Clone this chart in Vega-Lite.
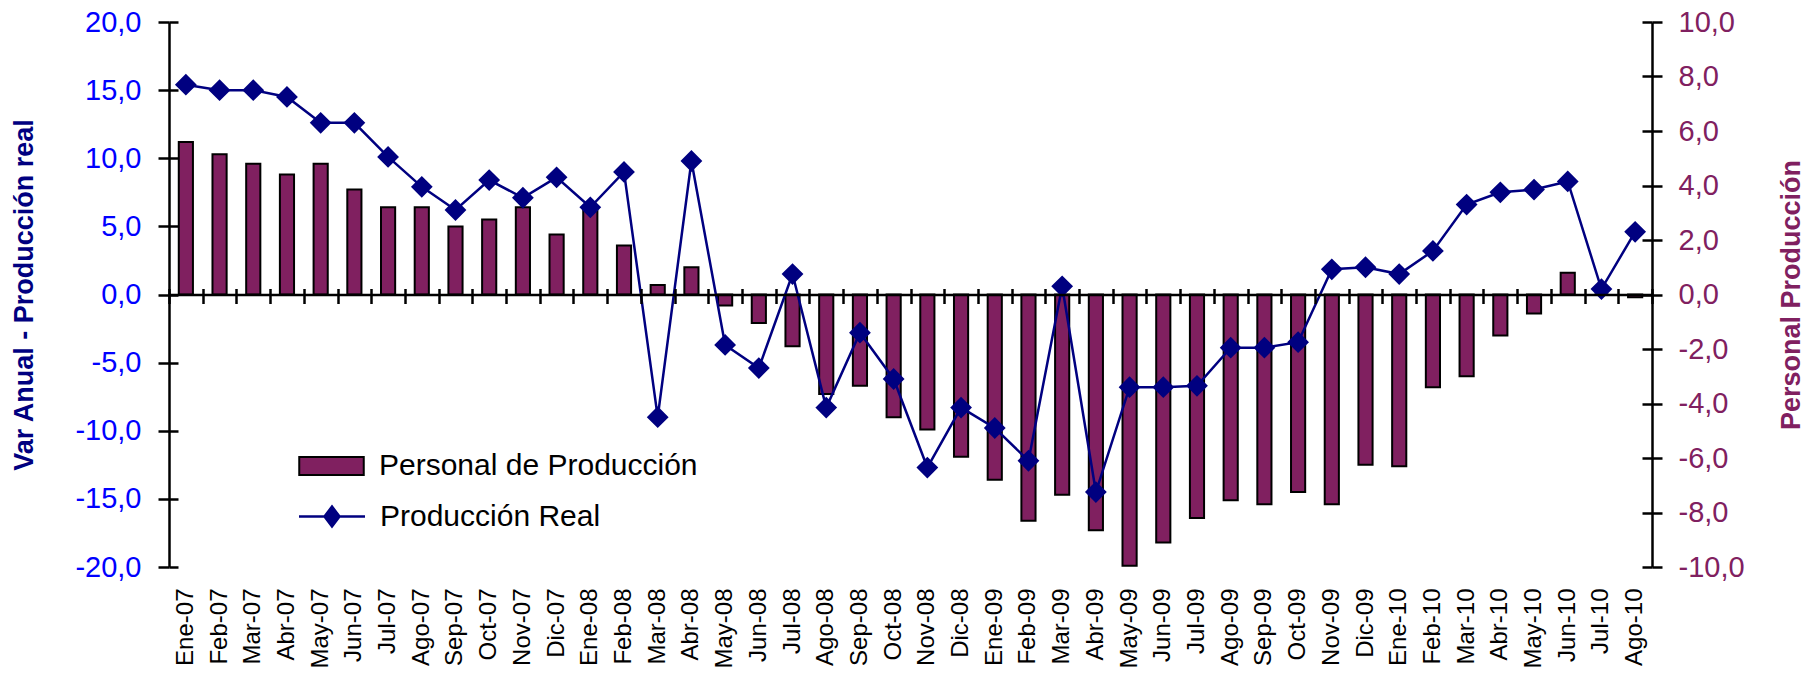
{
  "$schema": "https://vega.github.io/schema/vega-lite/v6.json",
  "autosize": {"type": "none"},
  "padding": {"left": 169, "top": 22, "right": 161, "bottom": 113},
  "width": 1483,
  "height": 545,
  "background": "white",
  "config": {
    "font": "Liberation Sans",
    "view": {"stroke": null},
    "axis": {"grid": false}
  },
  "data": {
    "values": [
      {"m": "Ene-07", "pers": 5.6, "prod": 15.4},
      {"m": "Feb-07", "pers": 5.15, "prod": 15.0},
      {"m": "Mar-07", "pers": 4.8, "prod": 15.0},
      {"m": "Abr-07", "pers": 4.4, "prod": 14.5},
      {"m": "May-07", "pers": 4.8, "prod": 12.6},
      {"m": "Jun-07", "pers": 3.85, "prod": 12.6},
      {"m": "Jul-07", "pers": 3.2, "prod": 10.1},
      {"m": "Ago-07", "pers": 3.2, "prod": 7.9},
      {"m": "Sep-07", "pers": 2.5, "prod": 6.2},
      {"m": "Oct-07", "pers": 2.75, "prod": 8.4},
      {"m": "Nov-07", "pers": 3.2, "prod": 7.1},
      {"m": "Dic-07", "pers": 2.2, "prod": 8.6},
      {"m": "Ene-08", "pers": 3.2, "prod": 6.4},
      {"m": "Feb-08", "pers": 1.8, "prod": 9.0},
      {"m": "Mar-08", "pers": 0.35, "prod": -9.0},
      {"m": "Abr-08", "pers": 1.0, "prod": 9.8},
      {"m": "May-08", "pers": -0.4, "prod": -3.7},
      {"m": "Jun-08", "pers": -1.05, "prod": -5.4},
      {"m": "Jul-08", "pers": -1.9, "prod": 1.5},
      {"m": "Ago-08", "pers": -3.65, "prod": -8.3},
      {"m": "Sep-08", "pers": -3.35, "prod": -2.8},
      {"m": "Oct-08", "pers": -4.5, "prod": -6.2},
      {"m": "Nov-08", "pers": -4.95, "prod": -12.7},
      {"m": "Dic-08", "pers": -5.95, "prod": -8.3},
      {"m": "Ene-09", "pers": -6.8, "prod": -9.8},
      {"m": "Feb-09", "pers": -8.3, "prod": -12.2},
      {"m": "Mar-09", "pers": -7.35, "prod": 0.6},
      {"m": "Abr-09", "pers": -8.65, "prod": -14.5},
      {"m": "May-09", "pers": -9.95, "prod": -6.8},
      {"m": "Jun-09", "pers": -9.1, "prod": -6.8},
      {"m": "Jul-09", "pers": -8.2, "prod": -6.7},
      {"m": "Ago-09", "pers": -7.55, "prod": -3.9},
      {"m": "Sep-09", "pers": -7.7, "prod": -3.9},
      {"m": "Oct-09", "pers": -7.25, "prod": -3.5},
      {"m": "Nov-09", "pers": -7.7, "prod": 1.85},
      {"m": "Dic-09", "pers": -6.25, "prod": 2.0},
      {"m": "Ene-10", "pers": -6.3, "prod": 1.5},
      {"m": "Feb-10", "pers": -3.4, "prod": 3.2},
      {"m": "Mar-10", "pers": -3.0, "prod": 6.6},
      {"m": "Abr-10", "pers": -1.5, "prod": 7.5},
      {"m": "May-10", "pers": -0.7, "prod": 7.7},
      {"m": "Jun-10", "pers": 0.8, "prod": 8.3},
      {"m": "Jul-10", "pers": 0.0, "prod": 0.4},
      {"m": "Ago-10", "pers": -0.1, "prod": 4.6}
    ]
  },
  "layer": [
    {
      "mark": {"type": "bar", "width": {"band": 0.42}, "stroke": "black", "strokeWidth": 2},
      "encoding": {
        "x": {
          "field": "m", "type": "ordinal", "sort": null,
          "scale": {"paddingInner": 0, "paddingOuter": 0},
          "axis": {
            "title": null, "domain": false, "ticks": false, "tickSize": 0,
            "labelAngle": 270, "labelAlign": "right", "labelBaseline": "middle",
            "labelFontSize": 24, "labelColor": "black", "labelPadding": 21
          }
        },
        "y": {
          "field": "pers", "type": "quantitative",
          "scale": {"domain": [-10, 10], "nice": false, "zero": false},
          "axis": {
            "orient": "right", "values": [-10, -8, -6, -4, -2, 0, 2, 4, 6, 8, 10],
            "labelExpr": "replace((datum.value < 0 ? '-' : '') + format(abs(datum.value), '.1f'), '.', ',')",
            "labelColor": "#802060", "labelFontSize": 29, "labelPadding": 16,
            "tickSize": 10, "tickColor": "black", "tickWidth": 2.5,
            "domainColor": "black", "domainWidth": 2.5,
            "title": "Personal Producción", "titleColor": "#802060", "titleFontSize": 27,
            "titleFontWeight": "bold", "titleAngle": 270, "titleBaseline": "top", "titlePadding": 34
          }
        },
        "fill": {
          "datum": "Personal de Producción", "type": "nominal",
          "scale": {"domain": ["Personal de Producción"], "range": ["#802060"]},
          "legend": {
            "orient": "none", "legendX": 146.5, "legendY": 428, "title": null,
            "padding": 0, "symbolSize": 900, "labelOffset": 31.5,
            "labelFontSize": 30, "labelColor": "black", "labelLimit": 600,
            "labelFont": "Liberation Sans",
            "symbolType": "M-2.15,-0.6L2.15,-0.6L2.15,0.6L-2.15,0.6Z",
            "symbolStrokeColor": "black", "symbolStrokeWidth": 2, "symbolOpacity": 1
          }
        }
      }
    },
    {
      "mark": {"type": "line", "strokeWidth": 2.5, "point": {"shape": "diamond", "filled": true, "fill": "#000080", "size": 360, "opacity": 1}},
      "encoding": {
        "x": {
          "field": "m", "type": "ordinal", "sort": null,
          "axis": {
            "orient": "bottom", "offset": -272.5, "labels": false, "title": null,
            "domain": true, "domainColor": "black", "domainWidth": 2.5,
            "ticks": true, "tickBand": "extent", "tickSize": 9, "tickColor": "black", "tickWidth": 2.5,
            "zindex": 1
          }
        },
        "y": {
          "field": "prod", "type": "quantitative",
          "scale": {"domain": [-20, 20], "nice": false, "zero": false},
          "axis": {
            "orient": "left", "values": [-20, -15, -10, -5, 0, 5, 10, 15, 20],
            "labelExpr": "replace((datum.value < 0 ? '-' : '') + format(abs(datum.value), '.1f'), '.', ',')",
            "labelColor": "#0000FF", "labelFontSize": 29, "labelPadding": 17,
            "tickSize": 11, "tickColor": "black", "tickWidth": 2.5,
            "domainColor": "black", "domainWidth": 2.5,
            "title": "Var Anual  - Producción real", "titleColor": "#000080", "titleFontSize": 27,
            "titleFontWeight": "bold", "titlePadding": 36
          }
        },
        "stroke": {
          "datum": "Producción Real", "type": "nominal",
          "scale": {"domain": ["Producción Real"], "range": ["#000080"]},
          "legend": {
            "orient": "none", "legendX": 146.5, "legendY": 478, "title": null,
            "padding": 0, "symbolSize": 900, "labelOffset": 31.5,
            "labelFontSize": 30, "labelColor": "black", "labelLimit": 600,
            "labelFont": "Liberation Sans",
            "symbolType": "M-2.2,0L2.2,0M-0.5,0L0,-0.66L0.5,0L0,0.66Z",
            "symbolFillColor": "#000080", "symbolStrokeWidth": 2.5, "symbolOpacity": 1
          }
        }
      }
    },
    {
      "mark": {"type": "point", "opacity": 0},
      "encoding": {
        "x": {
          "field": "m", "type": "ordinal", "sort": null,
          "axis": {
            "orient": "bottom", "offset": -272.5, "labels": false, "title": null,
            "domain": false, "ticks": true, "tickBand": "extent", "tickSize": -6,
            "tickColor": "black", "tickWidth": 2.5, "zindex": 1
          }
        },
        "y": {
          "field": "prod", "type": "quantitative",
          "scale": {"domain": [-20, 20], "nice": false, "zero": false},
          "axis": {
            "orient": "left", "values": [-20, -15, -10, -5, 0, 5, 10, 15, 20],
            "labels": false, "domain": false, "title": null,
            "tickSize": -9, "tickColor": "black", "tickWidth": 2.5
          }
        }
      }
    },
    {
      "mark": {"type": "point", "opacity": 0},
      "encoding": {
        "x": {"field": "m", "type": "ordinal", "sort": null, "axis": null},
        "y": {
          "field": "pers", "type": "quantitative",
          "scale": {"domain": [-10, 10], "nice": false, "zero": false},
          "axis": {
            "orient": "right", "values": [-10, -8, -6, -4, -2, 0, 2, 4, 6, 8, 10],
            "labels": false, "domain": false, "title": null,
            "tickSize": -10, "tickColor": "black", "tickWidth": 2.5
          }
        }
      }
    }
  ],
  "resolve": {"scale": {"y": "independent"}, "axis": {"x": "independent", "y": "independent"}}
}
